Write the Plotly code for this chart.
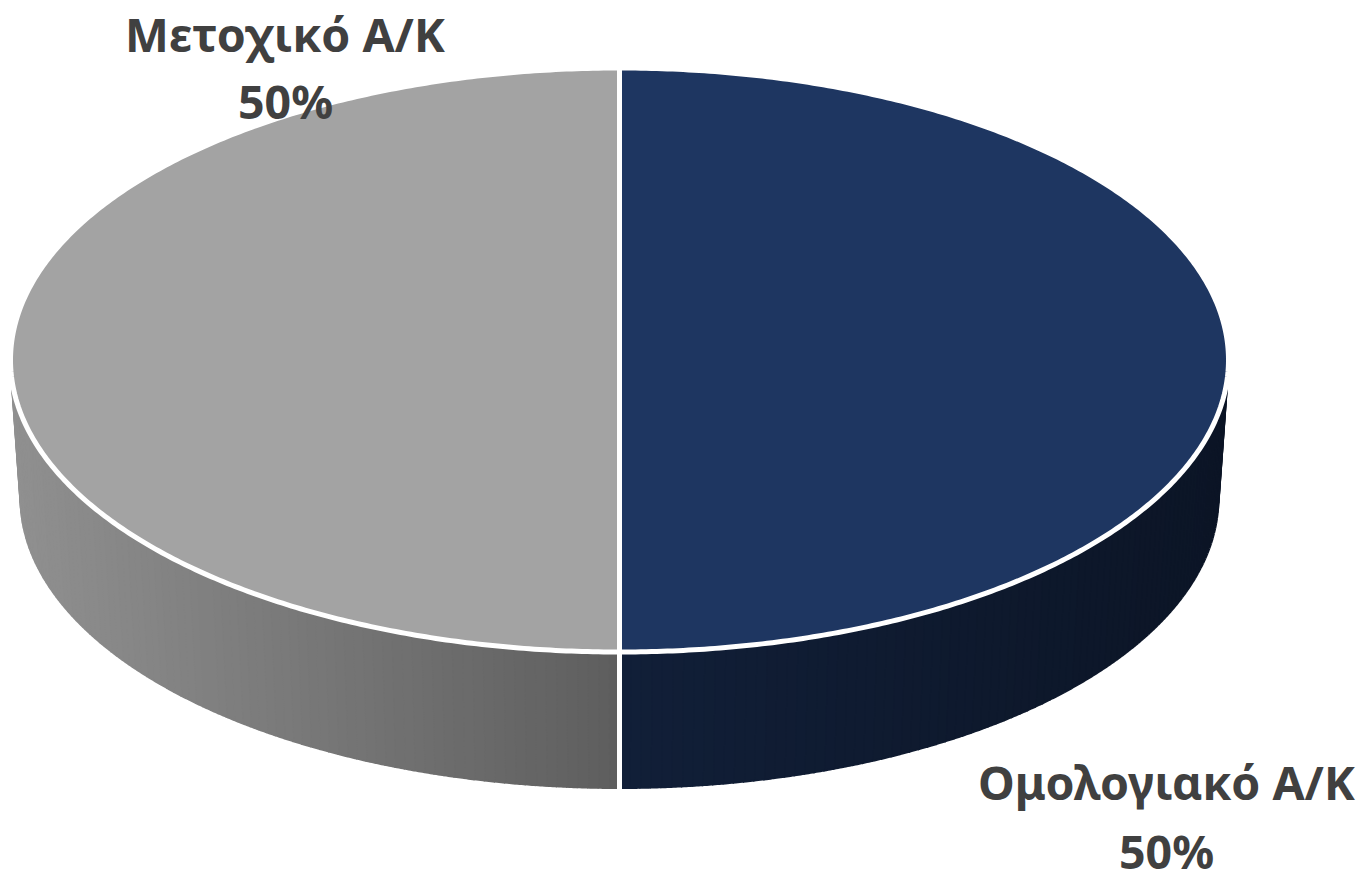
import numpy as np
import plotly.graph_objects as go

categories = ["Ομολογιακό Α/Κ", "Μετοχικό Α/Κ"]
shares = [50, 50]
top_colors = ["#1e3661", "#a3a3a3"]
wall_rim = ["#0c1526", "#909090"]    # wall colour at the outer left/right rim
wall_front = ["#111f38", "#5e5e5e"]  # wall colour at the front seam

CX, CY, RX, RY = 619.5, 360, 609, 292
BCX, BCY, BRX, BRY = 619.5, 498, 599, 290


def top(t):
    return CX + RX * np.sin(t), CY - RY * np.cos(t)


def bottom(t):
    return BCX + BRX * np.sin(t), BCY - BRY * np.cos(t)


def mix(a, b, f):
    ca = [int(a[i:i + 2], 16) for i in (1, 3, 5)]
    cb = [int(b[i:i + 2], 16) for i in (1, 3, 5)]
    return "rgb(%d,%d,%d)" % tuple(round(x + (y - x) * f) for x, y in zip(ca, cb))


fig = go.Figure()
edges = np.cumsum([0] + shares) / sum(shares) * 2 * np.pi

# Visible wall of each slice, shaded in narrow strips
for i in range(len(shares)):
    lo, hi = max(edges[i], np.pi / 2), min(edges[i + 1], 3 * np.pi / 2)
    steps = np.linspace(lo, hi, 91)
    for k in range(90):
        t = np.linspace(steps[k], steps[k + 1], 6)
        xa, ya = top(t)
        xb, yb = bottom(t[::-1])
        f = 1 - abs(np.sin((steps[k] + steps[k + 1]) / 2))
        col = mix(wall_rim[i], wall_front[i], f)
        fig.add_trace(go.Scatter(x=np.r_[xa, xb], y=np.r_[ya, yb], mode="lines", fill="toself",
                                 fillcolor=col, line=dict(color=col, width=2, simplify=False),
                                 hoverinfo="skip", showlegend=False))

# Top face of each slice
for i, name in enumerate(categories):
    t = np.linspace(edges[i], edges[i + 1], 360)
    x, y = top(t)
    fig.add_trace(go.Scatter(x=np.r_[CX, x, CX], y=np.r_[CY, y, CY], mode="lines", fill="toself",
                             fillcolor=top_colors[i], line=dict(color="white", width=5, simplify=False),
                             name=name, showlegend=False))

# White seam on the front wall where slices meet
for e in edges:
    if np.pi / 2 <= e <= 3 * np.pi / 2:
        xa, ya = top(np.array([e]))
        xb, yb = bottom(np.array([e]))
        fig.add_trace(go.Scatter(x=[xa[0], xb[0]], y=[ya[0], yb[0] + 2], mode="lines",
                                 line=dict(color="white", width=5), hoverinfo="skip", showlegend=False))

label_pos = [(1166, 782, 851), (285, 34, 101)]
for name, v, (lx, ly1, ly2) in zip(categories, shares, label_pos):
    for txt, ly in ((name, ly1), (f"{v}%", ly2)):
        fig.add_annotation(x=lx, y=ly, text=txt, showarrow=False, xanchor="center", yanchor="middle",
                           font=dict(family="Noto Sans", size=46.5, color="#404040", weight="bold"))

fig.update_xaxes(range=[0, 1372], visible=False, fixedrange=True)
fig.update_yaxes(range=[869, 0], visible=False, fixedrange=True)
fig.update_layout(width=1372, height=869, margin=dict(l=0, r=0, t=0, b=0),
                  paper_bgcolor="white", plot_bgcolor="white", showlegend=False)
fig.write_html("out.html", config={"displayModeBar": False},
               post_script="document.body.style.margin='0';document.body.style.overflow='hidden';")
